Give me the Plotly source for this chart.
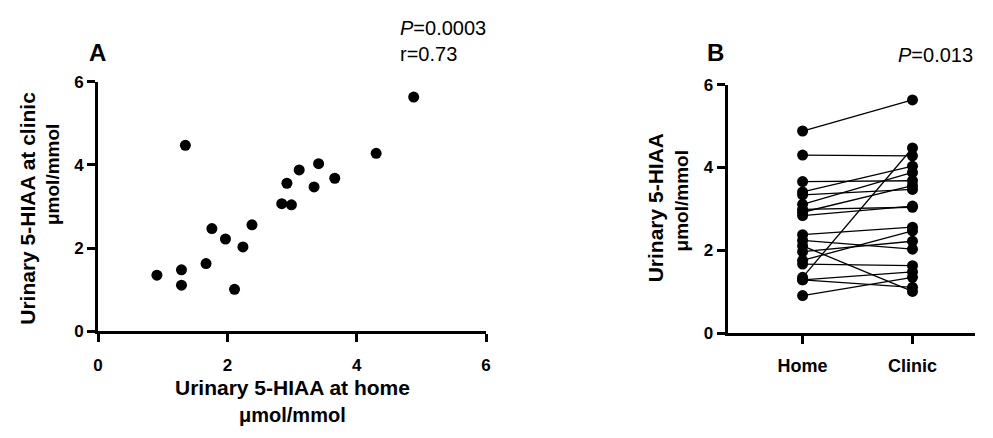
import plotly.graph_objects as go

# Paired urinary 5-HIAA values (µmol/mmol), one per participant
home = [0.91, 1.29, 1.29, 1.35, 1.67, 1.76, 1.97, 2.11, 2.24, 2.38,
        2.84, 2.92, 2.99, 3.11, 3.34, 3.41, 3.66, 4.30, 4.88]
clinic = [1.35, 1.48, 1.11, 4.47, 1.63, 2.47, 2.22, 1.01, 2.03, 2.56,
          3.07, 3.56, 3.04, 3.88, 3.47, 4.03, 3.68, 4.28, 5.63]
groups = ["Home", "Clinic"]
ticks = [0, 2, 4, 6]

FONT = "Liberation Sans, Arial, sans-serif"
W, H = 993, 438

def px(x):
    return x / W

def py(y):
    return (H - y) / H

def bold(labels):
    return ["<b>%s</b>" % l for l in labels]

fig = go.Figure()

# Panel A: scatter
fig.add_trace(go.Scatter(
    x=home, y=clinic, mode="markers", xaxis="x", yaxis="y",
    marker=dict(color="black", size=11), showlegend=False))

# Panel B: paired lines
for h, c in zip(home, clinic):
    fig.add_trace(go.Scatter(
        x=[0, 1], y=[h, c], mode="lines+markers", xaxis="x2", yaxis="y2",
        line=dict(color="black", width=1.3),
        marker=dict(color="black", size=11), showlegend=False))

def axis_style(size, standoff):
    return dict(
        showgrid=False, zeroline=False, showline=True, linecolor="black",
        linewidth=3, ticks="outside", tickwidth=3, ticklen=8,
        tickcolor="black", ticklabelstandoff=standoff,
        tickfont=dict(family=FONT, size=size, color="black"),
    )

tick_text = bold([str(t) for t in ticks])

fig.update_layout(
    width=W, height=H, margin=dict(l=0, r=0, t=0, b=0),
    plot_bgcolor="white", paper_bgcolor="white",
    font=dict(family=FONT, color="black"),
    xaxis=dict(domain=[px(94), px(486)], range=[0, 6], tickvals=ticks,
               ticktext=tick_text, anchor="y", **axis_style(17, 8)),
    yaxis=dict(domain=[py(337), py(76)], range=[0, 6], tickvals=ticks,
               ticktext=tick_text, anchor="x", **axis_style(17, 0)),
    xaxis2=dict(domain=[px(730), px(980)], range=[-0.682, 1.57],
                tickvals=[0, 1], ticktext=bold(groups), anchor="y2",
                **axis_style(18, 6)),
    yaxis2=dict(domain=[py(339), py(79)], range=[0, 6], tickvals=ticks,
                ticktext=tick_text, anchor="x2", **axis_style(17, 0)),
)

ann = []
def txt(x, y, s, size=16, angle=0, xanchor="center"):
    ann.append(dict(x=px(x), y=py(y), xref="paper", yref="paper", text=s,
                    showarrow=False, textangle=angle, xanchor=xanchor,
                    yanchor="middle",
                    font=dict(family=FONT, size=size, color="black")))

txt(93, 45, "<b>A</b>", size=24)
txt(718, 45, "<b>B</b>", size=24)
txt(397, 20, "<i>P</i>=0.0003", size=20, xanchor="left")
txt(397, 47, "r=0.73", size=20, xanchor="left")
txt(900, 48, "<i>P</i>=0.013", size=20, xanchor="left")

txt(290, 396, "<b>Urinary 5-HIAA at home</b>", size=21)
txt(290, 424, "<b>μmol/mmol</b>", size=20)
txt(23, 208, "<b>Urinary 5-HIAA at clinic</b>", size=21, angle=-90)
txt(48, 173, "<b>μmol/mmol</b>", size=19, angle=-90)
txt(658, 208, "<b>Urinary 5-HIAA</b>", size=21, angle=-90)
txt(683, 201, "<b>μmol/mmol</b>", size=19, angle=-90)

fig.update_layout(annotations=ann)
fig.write_html("out.html",
               config={"displayModeBar": False},
               post_script="document.body.style.margin='0';"
                           "document.body.style.overflow='hidden';")
